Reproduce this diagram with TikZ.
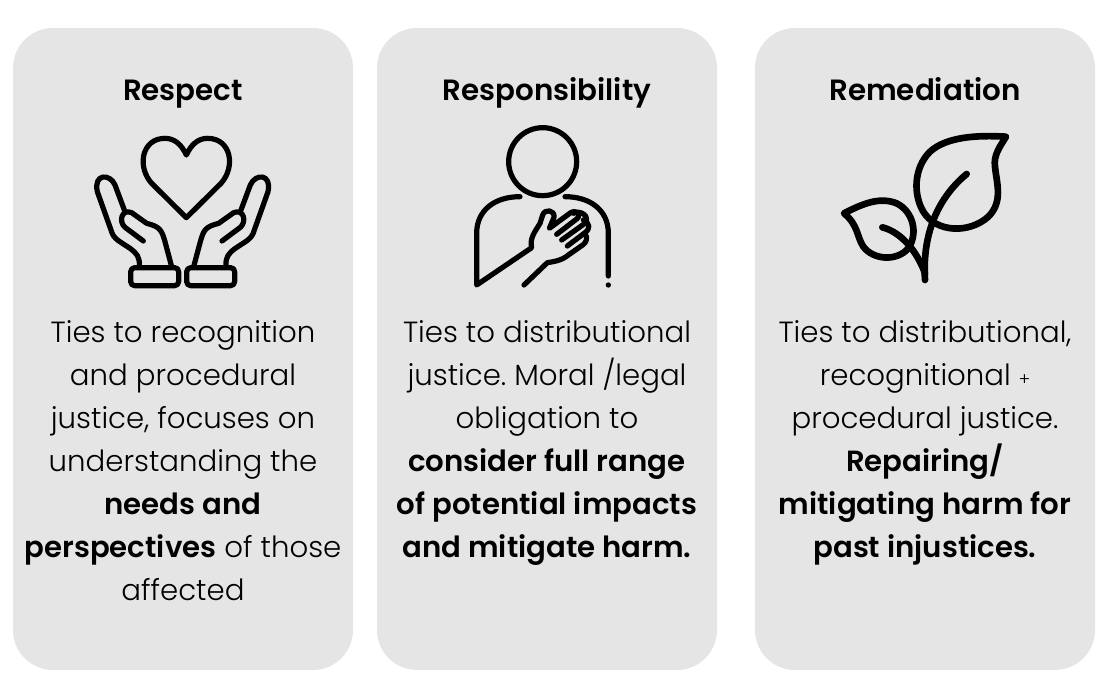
\documentclass[tikz,border=0pt]{standalone}
\usepackage{fontspec}
\setmainfont{Poppins}
\newfontfamily\bodyfont[BoldFont={Poppins SemiBold}]{Poppins Light}
\newfontfamily\headfont{Poppins SemiBold}
\definecolor{CardGrey}{RGB}{229, 229, 229}
\usetikzlibrary{positioning}

\begin{document}
\begin{tikzpicture}[
    x=0.75pt, y=-0.75pt,
    card/.style={fill=CardGrey, rounded corners=30pt, minimum width=255pt, minimum height=481.5pt, inner sep=0pt},
    heading/.style={font=\fontsize{22}{27}\selectfont\headfont, inner sep=0pt, anchor=base},
    body/.style={font=\fontsize{21.9}{32.25}\selectfont\bodyfont\frenchspacing, align=center, inner sep=0pt, anchor=north},
    icon/.style={line width=3.9pt, line cap=round, line join=round},
    leaf/.style={line width=5pt, line cap=round, line join=round},
    zoomed/.style={x=0.25pt, y=-0.25pt}
]
\useasboundingbox (0,0) rectangle (1111,693);

\node[card] (respect) at (183,349) {};
\node[card] (responsibility) at (547,349) {};
\node[card] (remediation) at (925,349) {};

\node[heading] (t1) at (183,100.7) {Respect};
\node[heading] (t2) at (547,100.7) {Responsibility};
\node[heading] (t3) at (925,100.7) {Remediation};

\begin{scope}[shift={(80,120)}, zoomed]
\draw[icon] (319,293) -- (215,190) .. controls (170,140) and (185,55) .. (255,55)
    .. controls (285,55) and (305,75) .. (319,105) .. controls (333,75) and (353,55) .. (383,55)
    .. controls (453,55) and (468,140) .. (423,190) -- cycle;
\end{scope}
\foreach \sx/\ox in {1/80, -1/285.33} {
\begin{scope}[shift={(\ox,120)}, zoomed, xscale=\sx]
\draw[icon] (178,440) .. controls (180,410) and (170,400) .. (150,385) -- (115,362)
    .. controls (100,350) and (98,345) .. (93,330) -- (52,215)
    .. controls (40,160) and (90,160) .. (105,195) -- (133,270);
\draw[icon] (190,363) -- (135,322) .. controls (115,305) and (125,265) .. (155,278) -- (200,310)
    .. controls (240,320) and (245,330) .. (255,365) -- (275,440);
\draw[icon, rounded corners=3pt] (152,443) rectangle (296,497);
\end{scope}
}

\begin{scope}[shift={(460,120)}, zoomed]
\draw[icon] (248,125) circle [radius=25.5pt];
\draw[icon] (180,230) .. controls (105,230) and (50,270) .. (50,340) -- (50,495) -- (215,383)
    .. controls (208,355) and (225,335) .. (240,310) -- (248,285)
    .. controls (255,265) and (285,270) .. (282,292) -- (268,325) -- (332,278)
    .. controls (350,268) and (365,285) .. (350,297) -- (290,343);
\draw[icon] (340,280) .. controls (360,268) and (395,290) .. (372,312) -- (305,360);
\draw[icon] (370,300) .. controls (390,310) and (392,325) .. (375,338) -- (322,378);
\draw[icon] (375,340) .. controls (385,355) and (378,368) .. (368,375) -- (325,405)
    .. controls (305,422) and (280,425) .. (262,428) -- (192,495);
\draw[icon] (315,230) .. controls (390,230) and (445,270) .. (445,340) -- (445,468);
\fill (445,495) circle [radius=2pt];
\end{scope}

\begin{scope}[shift={(830,120)}, zoomed]
\draw[leaf] (528,50) .. controls (440,45) and (350,50) .. (300,95)
    .. controls (250,145) and (250,225) .. (280,275)
    .. controls (320,340) and (420,340) .. (475,290)
    .. controls (520,245) and (500,190) .. (495,140)
    .. controls (490,105) and (510,80) .. (528,50) -- cycle;
\draw[leaf] (410,162) .. controls (340,220) and (275,320) .. (285,480);
\draw[leaf] (42,280) .. controls (100,250) and (150,230) .. (200,250)
    .. controls (250,275) and (265,340) .. (235,385)
    .. controls (200,425) and (130,420) .. (100,380)
    .. controls (80,350) and (85,315) .. (42,280) -- cycle;
\draw[leaf] (157,322) .. controls (210,335) and (260,390) .. (285,460);
\end{scope}

\node[body] (b1) at (183,320.3) {Ties to recognition\\and procedural\\justice, focuses on\\understanding the\\\textbf{needs and}\\\textbf{perspectives} of those\\affected};
\node[body] (b2) at (547,320.3) {Ties to distributional\\justice. Moral /legal\\obligation to\\\textbf{consider full range}\\\textbf{of potential impacts}\\\textbf{and mitigate harm.}};
\node[body] (b3) at (925,320.3) {Ties to distributional,\\recognitional {\fontsize{13}{13}\selectfont +}\\procedural justice.\\\textbf{Repairing/}\\\textbf{mitigating harm for}\\\textbf{past injustices.}};
\end{tikzpicture}
\end{document}
